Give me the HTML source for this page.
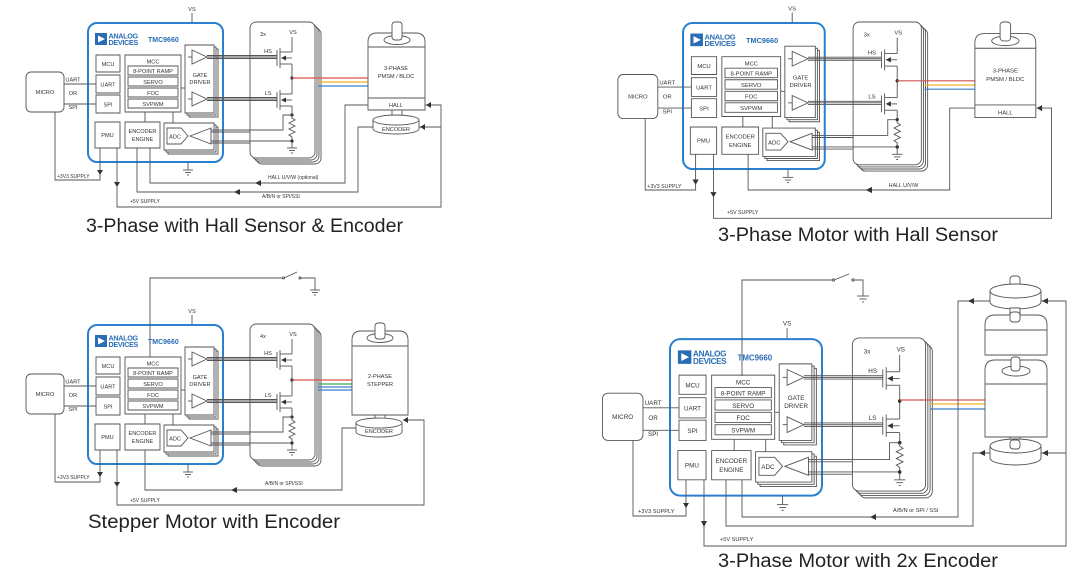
<!DOCTYPE html>
<html><head><meta charset="utf-8">
<style>
html,body{margin:0;padding:0;background:#fff;}
svg{display:block;}
svg *{vector-effect:non-scaling-stroke;}
.d line,.d polyline,.d rect,.d polygon,.d path,.d ellipse{stroke:#555;stroke-width:0.9;fill:none;}
.d rect,.d polygon.f{fill:#fff;}
.d text{font-family:"Liberation Sans",sans-serif;font-size:5.6px;fill:#333;text-anchor:middle;stroke:none;}
.d text.l{text-anchor:start;}
.d text.logo{font-size:7.2px;font-weight:bold;fill:#2a6db5;text-anchor:start;letter-spacing:-0.3px;}
.d text.tmc{font-size:7px;font-weight:bold;fill:#2a6db5;text-anchor:start;}
.d rect.chip{stroke:#2a7fd0;stroke-width:2;fill:none;}
.d .dot{fill:#333;stroke:none;}
.d .ar{fill:#333;stroke:none;}
.t{font-family:"Liberation Sans",sans-serif;font-size:19px;fill:#222;}
.d .w{fill:#fff;}
</style></head><body>
<svg width="1080" height="576" viewBox="0 0 1080 576" xmlns="http://www.w3.org/2000/svg">
<rect width="1080" height="576" fill="#fff"/>

<!-- ================= TL ================= -->
<g class="d">
<line x1="192" y1="13" x2="192" y2="23"/><text x="192" y="11">VS</text>
<rect class="chip" x="88" y="23" width="135" height="139" rx="9"/>
<rect x="95" y="33" width="12" height="12" style="fill:#2a6db5;stroke:none"/><polygon points="98,35.5 98,42.5 105,39" style="fill:#fff;stroke:none"/>
<text class="logo" x="108.5" y="38.5">ANALOG</text><text class="logo" x="108.5" y="45">DEVICES</text>
<text class="tmc" x="148" y="42">TMC9660</text>
<rect x="96" y="55" width="24" height="17"/><text x="108" y="66">MCU</text>
<rect x="96" y="75" width="24" height="18"/><text x="108" y="86.5">UART</text>
<rect x="96" y="95" width="24" height="18"/><text x="108" y="106.5">SPI</text>
<rect x="125" y="55" width="56" height="57"/><text x="153" y="63.5">MCC</text>
<rect x="128" y="66" width="50" height="9"/><text x="153" y="73">8-POINT RAMP</text>
<rect x="128" y="77" width="50" height="9"/><text x="153" y="84">SERVO</text>
<rect x="128" y="88" width="50" height="9"/><text x="153" y="95">FOC</text>
<rect x="128" y="99" width="50" height="9"/><text x="153" y="106">SVPWM</text>
<line x1="181" y1="88" x2="185" y2="88"/>
<rect x="189" y="49" width="29" height="68"/><rect x="187" y="47" width="29" height="68"/><rect x="185" y="45" width="29" height="68"/>
<polygon class="f" points="192,50 207,57 192,64"/><line x1="188" y1="57" x2="192" y2="57"/>
<polygon class="f" points="192,92 207,99 192,106"/><line x1="188" y1="99" x2="192" y2="99"/>
<text x="200" y="77">GATE</text><text x="200" y="84">DRIVER</text>
<line x1="145" y1="112" x2="145" y2="122"/><line x1="173" y1="112" x2="173" y2="123"/>
<rect x="95" y="122" width="25" height="26"/><text x="107.5" y="137">PMU</text>
<rect x="125" y="122" width="35" height="26"/><text x="142.5" y="133">ENCODER</text><text x="142.5" y="141">ENGINE</text>
<rect x="168" y="127" width="50" height="27"/><rect x="166" y="125" width="50" height="27"/><rect x="164" y="123" width="50" height="27"/>
<polygon class="f" points="167,128 181,128 188,136 181,144 167,144"/><text x="175" y="138.5">ADC</text>
<polygon class="f" points="190,136 211,128 211,144"/>
<line x1="188" y1="162" x2="188" y2="170"/><line x1="183" y1="170" x2="193" y2="170"/><line x1="185" y1="172.5" x2="191" y2="172.5"/><line x1="187" y1="175" x2="189" y2="175"/>
<rect x="256" y="28" width="65" height="136" rx="6"/><rect x="254" y="26" width="65" height="136" rx="6"/><rect x="252" y="24" width="65" height="136" rx="6"/><rect x="250" y="22" width="65" height="136" rx="6"/>
<line x1="207" y1="55.5" x2="277" y2="55.5"/><line x1="207" y1="57" x2="277" y2="57"/><line x1="207" y1="58.5" x2="277" y2="58.5"/>
<line x1="207" y1="97.5" x2="277" y2="97.5"/><line x1="207" y1="99" x2="277" y2="99"/><line x1="207" y1="100.5" x2="277" y2="100.5"/>
<polyline points="211,130 283,130 283,115 292,115"/><line x1="211" y1="132" x2="250" y2="132"/>
<line x1="211" y1="141" x2="292" y2="141"/><line x1="211" y1="143" x2="250" y2="143"/>
<text x="263" y="36">3x</text><text x="293" y="34">VS</text>
<line x1="292" y1="37" x2="292" y2="52"/>
<text x="268" y="53">HS</text><line x1="277" y1="50" x2="277" y2="66"/><line x1="280" y1="48" x2="280" y2="68"/>
<polyline points="280,52 292,52"/><polyline points="280,64 292,64"/><polygon class="ar" points="281,58 286,55.5 286,60.5"/><line x1="286" y1="58" x2="292" y2="58"/>
<line x1="292" y1="64" x2="292" y2="94"/><circle class="dot" cx="292" cy="78" r="1.6"/>
<text x="268" y="95">LS</text><line x1="277" y1="92" x2="277" y2="108"/><line x1="280" y1="90" x2="280" y2="110"/>
<polyline points="280,94 292,94"/><polyline points="280,106 292,106"/><polygon class="ar" points="281,100 286,97.5 286,102.5"/><line x1="286" y1="100" x2="292" y2="100"/>
<line x1="292" y1="106" x2="292" y2="115"/><circle class="dot" cx="292" cy="115" r="1.6"/>
<polyline points="292,115 292,118 295,120 289,123 295,126 289,129 295,132 289,135 292,137 292,148"/><circle class="dot" cx="292" cy="141" r="1.6"/>
<line x1="287" y1="148" x2="297" y2="148"/><line x1="289" y1="150.5" x2="295" y2="150.5"/><line x1="291" y1="153" x2="293" y2="153"/>
<rect x="26" y="72" width="38" height="40" rx="5"/><text x="45" y="94">MICRO</text>
<line x1="64" y1="84" x2="96" y2="84"/><line x1="64" y1="104" x2="96" y2="104"/>
<text x="73" y="81.5">UART</text><text x="73" y="95">OR</text><text x="73" y="109">SPI</text>
<line x1="292" y1="78" x2="368" y2="78" style="stroke:#d9534f;stroke-width:1.2"/>
<line x1="318" y1="82" x2="368" y2="82" style="stroke:#f0b323;stroke-width:1.2"/>
<line x1="318" y1="86" x2="368" y2="86" style="stroke:#3a7dc9;stroke-width:1.2"/>
<path class="w" d="M368,110 V42 Q368,33 377,33 H416 Q425,33 425,42 V110 Z"/>
<ellipse cx="397" cy="40" rx="13" ry="4.5"/><rect x="392" y="22" width="10" height="18" rx="3"/>
<line x1="368" y1="47" x2="425" y2="47"/><line x1="368" y1="98" x2="425" y2="98"/>
<text x="396" y="70">3-PHASE</text><text x="396" y="78">PMSM / BLDC</text><text x="396" y="107">HALL</text>
<rect x="392" y="110" width="10" height="9"/>
<path class="w" d="M373,120 A23,5 0 0 1 419,120 V129 A23,5 0 0 1 373,129 Z"/><path d="M373,120 A23,5 0 0 0 419,120"/>
<text x="396" y="131">ENCODER</text>
<polyline points="55,112 55,180 100,180 100,148"/><polygon class="ar" points="97,170 103,170 100,175"/>
<text class="l" x="57" y="178" style="font-size:5px">+3V3 SUPPLY</text>
<polyline points="117,148 117,207 441,207 441,105 425,105"/><polyline points="441,127 419,127"/>
<polygon class="ar" points="114,182 120,182 117,187"/><polygon class="ar" points="426,105 431,102 431,108"/><polygon class="ar" points="420,127 425,124 425,130"/>
<text class="l" x="130" y="203" style="font-size:5px">+5V SUPPLY</text>
<polyline points="150,148 150,183 345,183 345,105 368,105"/><polygon class="ar" points="255,183 261,180 261,186"/>
<text class="l" x="268" y="179" style="font-size:5px">HALL U/V/W (optional)</text>
<polyline points="137,148 137,192 358,192 358,127 373,127"/><polygon class="ar" points="234,192 240,189 240,195"/>
<text class="l" x="262" y="198" style="font-size:5px">A/B/N or SPI/SSI</text>
</g>
<text class="t" x="86" y="232" textLength="317" lengthAdjust="spacingAndGlyphs">3-Phase with Hall Sensor &amp; Encoder</text>

<!-- ================= TR ================= -->
<g class="d" transform="translate(590.6,-1.1) scale(1.05)">
<line x1="192" y1="13" x2="192" y2="23"/><text x="192" y="11">VS</text>
<rect class="chip" x="88" y="23" width="135" height="139" rx="9"/>
<rect x="95" y="33" width="12" height="12" style="fill:#2a6db5;stroke:none"/><polygon points="98,35.5 98,42.5 105,39" style="fill:#fff;stroke:none"/>
<text class="logo" x="108.5" y="38.5">ANALOG</text><text class="logo" x="108.5" y="45">DEVICES</text>
<text class="tmc" x="148" y="42">TMC9660</text>
<rect x="96" y="55" width="24" height="17"/><text x="108" y="66">MCU</text>
<rect x="96" y="75" width="24" height="18"/><text x="108" y="86.5">UART</text>
<rect x="96" y="95" width="24" height="18"/><text x="108" y="106.5">SPI</text>
<rect x="125" y="55" width="56" height="57"/><text x="153" y="63.5">MCC</text>
<rect x="128" y="66" width="50" height="9"/><text x="153" y="73">8-POINT RAMP</text>
<rect x="128" y="77" width="50" height="9"/><text x="153" y="84">SERVO</text>
<rect x="128" y="88" width="50" height="9"/><text x="153" y="95">FOC</text>
<rect x="128" y="99" width="50" height="9"/><text x="153" y="106">SVPWM</text>
<line x1="181" y1="88" x2="185" y2="88"/>
<rect x="189" y="49" width="29" height="68"/><rect x="187" y="47" width="29" height="68"/><rect x="185" y="45" width="29" height="68"/>
<polygon class="f" points="192,50 207,57 192,64"/><line x1="188" y1="57" x2="192" y2="57"/>
<polygon class="f" points="192,92 207,99 192,106"/><line x1="188" y1="99" x2="192" y2="99"/>
<text x="200" y="77">GATE</text><text x="200" y="84">DRIVER</text>
<line x1="145" y1="112" x2="145" y2="122"/><line x1="173" y1="112" x2="173" y2="123"/>
<rect x="95" y="122" width="25" height="26"/><text x="107.5" y="137">PMU</text>
<rect x="125" y="122" width="35" height="26"/><text x="142.5" y="133">ENCODER</text><text x="142.5" y="141">ENGINE</text>
<rect x="168" y="127" width="50" height="27"/><rect x="166" y="125" width="50" height="27"/><rect x="164" y="123" width="50" height="27"/>
<polygon class="f" points="167,128 181,128 188,136 181,144 167,144"/><text x="175" y="138.5">ADC</text>
<polygon class="f" points="190,136 211,128 211,144"/>
<line x1="188" y1="162" x2="188" y2="170"/><line x1="183" y1="170" x2="193" y2="170"/><line x1="185" y1="172.5" x2="191" y2="172.5"/><line x1="187" y1="175" x2="189" y2="175"/>
<rect x="256" y="28" width="65" height="136" rx="6"/><rect x="254" y="26" width="65" height="136" rx="6"/><rect x="252" y="24" width="65" height="136" rx="6"/><rect x="250" y="22" width="65" height="136" rx="6"/>
<line x1="207" y1="55.5" x2="277" y2="55.5"/><line x1="207" y1="57" x2="277" y2="57"/><line x1="207" y1="58.5" x2="277" y2="58.5"/>
<line x1="207" y1="97.5" x2="277" y2="97.5"/><line x1="207" y1="99" x2="277" y2="99"/><line x1="207" y1="100.5" x2="277" y2="100.5"/>
<polyline points="211,130 283,130 283,115 292,115"/><line x1="211" y1="132" x2="250" y2="132"/>
<line x1="211" y1="141" x2="292" y2="141"/><line x1="211" y1="143" x2="250" y2="143"/>
<text x="263" y="36">3x</text><text x="293" y="34">VS</text>
<line x1="292" y1="37" x2="292" y2="52"/>
<text x="268" y="53">HS</text><line x1="277" y1="50" x2="277" y2="66"/><line x1="280" y1="48" x2="280" y2="68"/>
<polyline points="280,52 292,52"/><polyline points="280,64 292,64"/><polygon class="ar" points="281,58 286,55.5 286,60.5"/><line x1="286" y1="58" x2="292" y2="58"/>
<line x1="292" y1="64" x2="292" y2="94"/><circle class="dot" cx="292" cy="78" r="1.6"/>
<text x="268" y="95">LS</text><line x1="277" y1="92" x2="277" y2="108"/><line x1="280" y1="90" x2="280" y2="110"/>
<polyline points="280,94 292,94"/><polyline points="280,106 292,106"/><polygon class="ar" points="281,100 286,97.5 286,102.5"/><line x1="286" y1="100" x2="292" y2="100"/>
<line x1="292" y1="106" x2="292" y2="115"/><circle class="dot" cx="292" cy="115" r="1.6"/>
<polyline points="292,115 292,118 295,120 289,123 295,126 289,129 295,132 289,135 292,137 292,148"/><circle class="dot" cx="292" cy="141" r="1.6"/>
<line x1="287" y1="148" x2="297" y2="148"/><line x1="289" y1="150.5" x2="295" y2="150.5"/><line x1="291" y1="153" x2="293" y2="153"/>
<rect x="26" y="72" width="38" height="42" rx="5"/><text x="45" y="95">MICRO</text>
<line x1="64" y1="84" x2="96" y2="84"/><line x1="64" y1="104" x2="96" y2="104"/>
<text x="73" y="81.5">UART</text><text x="73" y="95">OR</text><text x="73" y="109">SPI</text>
<line x1="292" y1="78" x2="366" y2="78" style="stroke:#d9534f;stroke-width:1.2"/>
<line x1="318" y1="82" x2="366" y2="82" style="stroke:#f0b323;stroke-width:1.2"/>
<line x1="318" y1="86" x2="366" y2="86" style="stroke:#3a7dc9;stroke-width:1.2"/>
<path class="w" d="M366,113 V42 Q366,33 375,33 H415 Q424,33 424,42 V113 Z"/>
<ellipse cx="395" cy="40" rx="13" ry="4.5"/><rect x="390" y="22" width="10" height="18" rx="3"/>
<line x1="366" y1="47" x2="424" y2="47"/><line x1="366" y1="101" x2="424" y2="101"/>
<text x="395" y="70">3-PHASE</text><text x="395" y="78">PMSM / BLDC</text><text x="395" y="110">HALL</text>
<polyline points="52,114 52,182 100,182 100,148"/><polygon class="ar" points="97,172 103,172 100,177"/>
<text class="l" x="54" y="180" style="font-size:5px">+3V3 SUPPLY</text>
<polyline points="117,148 117,209 439,209 439,104 424,104"/>
<polygon class="ar" points="114,184 120,184 117,189"/><polygon class="ar" points="425,104 430,101 430,107"/>
<text class="l" x="130" y="205" style="font-size:5px">+5V SUPPLY</text>
<polyline points="150,148 150,182 342,182 342,104 366,104"/><polygon class="ar" points="262,182 268,179 268,185"/>
<text class="l" x="284" y="179" style="font-size:5px">HALL U/V/W</text>
</g>
<text class="t" x="718" y="241" textLength="280" lengthAdjust="spacingAndGlyphs">3-Phase Motor with Hall Sensor</text>

<!-- ================= BL ================= -->
<g class="d" transform="translate(0,302)">
<line x1="192" y1="13" x2="192" y2="23"/><text x="192" y="11">VS</text>
<rect class="chip" x="88" y="23" width="135" height="139" rx="9"/>
<rect x="95" y="33" width="12" height="12" style="fill:#2a6db5;stroke:none"/><polygon points="98,35.5 98,42.5 105,39" style="fill:#fff;stroke:none"/>
<text class="logo" x="108.5" y="38.5">ANALOG</text><text class="logo" x="108.5" y="45">DEVICES</text>
<text class="tmc" x="148" y="42">TMC9660</text>
<rect x="96" y="55" width="24" height="17"/><text x="108" y="66">MCU</text>
<rect x="96" y="75" width="24" height="18"/><text x="108" y="86.5">UART</text>
<rect x="96" y="95" width="24" height="18"/><text x="108" y="106.5">SPI</text>
<rect x="125" y="55" width="56" height="57"/><text x="153" y="63.5">MCC</text>
<rect x="128" y="66" width="50" height="9"/><text x="153" y="73">8-POINT RAMP</text>
<rect x="128" y="77" width="50" height="9"/><text x="153" y="84">SERVO</text>
<rect x="128" y="88" width="50" height="9"/><text x="153" y="95">FOC</text>
<rect x="128" y="99" width="50" height="9"/><text x="153" y="106">SVPWM</text>
<line x1="181" y1="88" x2="185" y2="88"/>
<rect x="189" y="49" width="29" height="68"/><rect x="187" y="47" width="29" height="68"/><rect x="185" y="45" width="29" height="68"/>
<polygon class="f" points="192,50 207,57 192,64"/><line x1="188" y1="57" x2="192" y2="57"/>
<polygon class="f" points="192,92 207,99 192,106"/><line x1="188" y1="99" x2="192" y2="99"/>
<text x="200" y="77">GATE</text><text x="200" y="84">DRIVER</text>
<line x1="145" y1="112" x2="145" y2="122"/><line x1="173" y1="112" x2="173" y2="123"/>
<rect x="95" y="122" width="25" height="26"/><text x="107.5" y="137">PMU</text>
<rect x="125" y="122" width="35" height="26"/><text x="142.5" y="133">ENCODER</text><text x="142.5" y="141">ENGINE</text>
<rect x="168" y="127" width="50" height="27"/><rect x="166" y="125" width="50" height="27"/><rect x="164" y="123" width="50" height="27"/>
<polygon class="f" points="167,128 181,128 188,136 181,144 167,144"/><text x="175" y="138.5">ADC</text>
<polygon class="f" points="190,136 211,128 211,144"/>
<line x1="188" y1="162" x2="188" y2="170"/><line x1="183" y1="170" x2="193" y2="170"/><line x1="185" y1="172.5" x2="191" y2="172.5"/><line x1="187" y1="175" x2="189" y2="175"/>
<rect x="256" y="28" width="65" height="136" rx="6"/><rect x="254" y="26" width="65" height="136" rx="6"/><rect x="252" y="24" width="65" height="136" rx="6"/><rect x="250" y="22" width="65" height="136" rx="6"/>
<line x1="207" y1="55.5" x2="277" y2="55.5"/><line x1="207" y1="57" x2="277" y2="57"/><line x1="207" y1="58.5" x2="277" y2="58.5"/>
<line x1="207" y1="97.5" x2="277" y2="97.5"/><line x1="207" y1="99" x2="277" y2="99"/><line x1="207" y1="100.5" x2="277" y2="100.5"/>
<polyline points="211,130 283,130 283,115 292,115"/><line x1="211" y1="132" x2="250" y2="132"/>
<line x1="211" y1="141" x2="292" y2="141"/><line x1="211" y1="143" x2="250" y2="143"/>
<text x="263" y="36">4x</text><text x="293" y="34">VS</text>
<line x1="292" y1="37" x2="292" y2="52"/>
<text x="268" y="53">HS</text><line x1="277" y1="50" x2="277" y2="66"/><line x1="280" y1="48" x2="280" y2="68"/>
<polyline points="280,52 292,52"/><polyline points="280,64 292,64"/><polygon class="ar" points="281,58 286,55.5 286,60.5"/><line x1="286" y1="58" x2="292" y2="58"/>
<line x1="292" y1="64" x2="292" y2="94"/><circle class="dot" cx="292" cy="78" r="1.6"/>
<text x="268" y="95">LS</text><line x1="277" y1="92" x2="277" y2="108"/><line x1="280" y1="90" x2="280" y2="110"/>
<polyline points="280,94 292,94"/><polyline points="280,106 292,106"/><polygon class="ar" points="281,100 286,97.5 286,102.5"/><line x1="286" y1="100" x2="292" y2="100"/>
<line x1="292" y1="106" x2="292" y2="115"/><circle class="dot" cx="292" cy="115" r="1.6"/>
<polyline points="292,115 292,118 295,120 289,123 295,126 289,129 295,132 289,135 292,137 292,148"/><circle class="dot" cx="292" cy="141" r="1.6"/>
<line x1="287" y1="148" x2="297" y2="148"/><line x1="289" y1="150.5" x2="295" y2="150.5"/><line x1="291" y1="153" x2="293" y2="153"/>
<rect x="26" y="72" width="38" height="40" rx="5"/><text x="45" y="94">MICRO</text>
<line x1="64" y1="84" x2="96" y2="84"/><line x1="64" y1="104" x2="96" y2="104"/>
<text x="73" y="81.5">UART</text><text x="73" y="95">OR</text><text x="73" y="109">SPI</text>
<polyline points="150,55 150,-24 283,-24"/><line x1="284" y1="-24" x2="297" y2="-30"/>
<circle cx="283.5" cy="-24" r="1" style="fill:#fff;stroke:#555"/><circle cx="300" cy="-24" r="1" style="fill:#fff;stroke:#555"/>
<polyline points="301,-24 315,-24 315,-12"/><line x1="310" y1="-12" x2="320" y2="-12"/><line x1="312" y1="-9.5" x2="318" y2="-9.5"/><line x1="314" y1="-7" x2="316" y2="-7"/>
<line x1="292" y1="78" x2="352" y2="78" style="stroke:#d9534f;stroke-width:1.2"/>
<line x1="318" y1="82" x2="352" y2="82" style="stroke:#3aa655;stroke-width:1.2"/>
<line x1="318" y1="85" x2="352" y2="85" style="stroke:#3a7dc9;stroke-width:1.2"/>
<line x1="318" y1="88" x2="352" y2="88" style="stroke:#3a7dc9;stroke-width:1.2"/>
<path class="w" d="M352,113 V38 Q352,29 361,29 H399 Q408,29 408,38 V113 Z"/>
<ellipse cx="380" cy="36" rx="13" ry="4.5"/><rect x="375" y="21" width="10" height="16" rx="3"/>
<line x1="352" y1="44" x2="408" y2="44"/>
<text x="380" y="76">2-PHASE</text><text x="380" y="84">STEPPER</text>
<rect x="375" y="113" width="10" height="8"/>
<path class="w" d="M356,121 A23,5 0 0 1 402,121 V130 A23,5 0 0 1 356,130 Z"/><path d="M356,121 A23,5 0 0 0 402,121"/>
<text x="379" y="131">ENCODER</text>
<polyline points="55,112 55,180 100,180 100,148"/><polygon class="ar" points="97,170 103,170 100,175"/>
<text class="l" x="57" y="177" style="font-size:5px">+3V3 SUPPLY</text>
<polyline points="117,148 117,203 424,203 424,118 403,118"/>
<polygon class="ar" points="114,180 120,180 117,185"/><polygon class="ar" points="403,118 408,115 408,121"/>
<text class="l" x="130" y="200" style="font-size:5px">+5V SUPPLY</text>
<polyline points="145,148 145,188 342,188 342,126 356,126"/><polygon class="ar" points="231,188 237,185 237,191"/>
<text class="l" x="265" y="183" style="font-size:5px">A/B/N or SPI/SSI</text>
</g>
<text class="t" x="88" y="528" textLength="252" lengthAdjust="spacingAndGlyphs">Stepper Motor with Encoder</text>

<!-- ================= BR ================= -->
<g class="d" transform="translate(570.9,313.2) scale(1.126)">
<line x1="192" y1="13" x2="192" y2="23"/><text x="192" y="11">VS</text>
<rect class="chip" x="88" y="23" width="135" height="139" rx="9"/>
<rect x="95" y="33" width="12" height="12" style="fill:#2a6db5;stroke:none"/><polygon points="98,35.5 98,42.5 105,39" style="fill:#fff;stroke:none"/>
<text class="logo" x="108.5" y="38.5">ANALOG</text><text class="logo" x="108.5" y="45">DEVICES</text>
<text class="tmc" x="148" y="42">TMC9660</text>
<rect x="96" y="55" width="24" height="17"/><text x="108" y="66">MCU</text>
<rect x="96" y="75" width="24" height="18"/><text x="108" y="86.5">UART</text>
<rect x="96" y="95" width="24" height="18"/><text x="108" y="106.5">SPI</text>
<rect x="125" y="55" width="56" height="57"/><text x="153" y="63.5">MCC</text>
<rect x="128" y="66" width="50" height="9"/><text x="153" y="73">8-POINT RAMP</text>
<rect x="128" y="77" width="50" height="9"/><text x="153" y="84">SERVO</text>
<rect x="128" y="88" width="50" height="9"/><text x="153" y="95">FOC</text>
<rect x="128" y="99" width="50" height="9"/><text x="153" y="106">SVPWM</text>
<line x1="181" y1="88" x2="185" y2="88"/>
<rect x="189" y="49" width="29" height="68"/><rect x="187" y="47" width="29" height="68"/><rect x="185" y="45" width="29" height="68"/>
<polygon class="f" points="192,50 207,57 192,64"/><line x1="188" y1="57" x2="192" y2="57"/>
<polygon class="f" points="192,92 207,99 192,106"/><line x1="188" y1="99" x2="192" y2="99"/>
<text x="200" y="77">GATE</text><text x="200" y="84">DRIVER</text>
<line x1="145" y1="112" x2="145" y2="122"/><line x1="173" y1="112" x2="173" y2="123"/>
<rect x="95" y="122" width="25" height="26"/><text x="107.5" y="137">PMU</text>
<rect x="125" y="122" width="35" height="26"/><text x="142.5" y="133">ENCODER</text><text x="142.5" y="141">ENGINE</text>
<rect x="168" y="127" width="50" height="27"/><rect x="166" y="125" width="50" height="27"/><rect x="164" y="123" width="50" height="27"/>
<polygon class="f" points="167,128 181,128 188,136 181,144 167,144"/><text x="175" y="138.5">ADC</text>
<polygon class="f" points="190,136 211,128 211,144"/>
<line x1="188" y1="162" x2="188" y2="170"/><line x1="183" y1="170" x2="193" y2="170"/><line x1="185" y1="172.5" x2="191" y2="172.5"/><line x1="187" y1="175" x2="189" y2="175"/>
<rect x="256" y="28" width="65" height="136" rx="6"/><rect x="254" y="26" width="65" height="136" rx="6"/><rect x="252" y="24" width="65" height="136" rx="6"/><rect x="250" y="22" width="65" height="136" rx="6"/>
<line x1="207" y1="55.5" x2="277" y2="55.5"/><line x1="207" y1="57" x2="277" y2="57"/><line x1="207" y1="58.5" x2="277" y2="58.5"/>
<line x1="207" y1="97.5" x2="277" y2="97.5"/><line x1="207" y1="99" x2="277" y2="99"/><line x1="207" y1="100.5" x2="277" y2="100.5"/>
<polyline points="211,130 283,130 283,115 292,115"/><line x1="211" y1="132" x2="250" y2="132"/>
<line x1="211" y1="141" x2="292" y2="141"/><line x1="211" y1="143" x2="250" y2="143"/>
<text x="263" y="36">3x</text><text x="293" y="34">VS</text>
<line x1="292" y1="37" x2="292" y2="52"/>
<text x="268" y="53">HS</text><line x1="277" y1="50" x2="277" y2="66"/><line x1="280" y1="48" x2="280" y2="68"/>
<polyline points="280,52 292,52"/><polyline points="280,64 292,64"/><polygon class="ar" points="281,58 286,55.5 286,60.5"/><line x1="286" y1="58" x2="292" y2="58"/>
<line x1="292" y1="64" x2="292" y2="94"/><circle class="dot" cx="292" cy="78" r="1.6"/>
<text x="268" y="95">LS</text><line x1="277" y1="92" x2="277" y2="108"/><line x1="280" y1="90" x2="280" y2="110"/>
<polyline points="280,94 292,94"/><polyline points="280,106 292,106"/><polygon class="ar" points="281,100 286,97.5 286,102.5"/><line x1="286" y1="100" x2="292" y2="100"/>
<line x1="292" y1="106" x2="292" y2="115"/><circle class="dot" cx="292" cy="115" r="1.6"/>
<polyline points="292,115 292,118 295,120 289,123 295,126 289,129 295,132 289,135 292,137 292,148"/><circle class="dot" cx="292" cy="141" r="1.6"/>
<line x1="287" y1="148" x2="297" y2="148"/><line x1="289" y1="150.5" x2="295" y2="150.5"/><line x1="291" y1="153" x2="293" y2="153"/>
<rect x="28" y="71" width="36" height="42" rx="5"/><text x="46" y="94">MICRO</text>
<line x1="64" y1="84" x2="96" y2="84"/><line x1="64" y1="104" x2="96" y2="104"/>
<text x="73" y="81.5">UART</text><text x="73" y="95">OR</text><text x="73" y="109">SPI</text>
</g>
<g class="d">
<polyline points="742,376 742,280 833,280"/><line x1="834" y1="280" x2="849" y2="274"/>
<circle cx="833.5" cy="280" r="1.1" style="fill:#fff;stroke:#555"/><circle cx="853" cy="280" r="1.1" style="fill:#fff;stroke:#555"/>
<polyline points="854,280 863,280 863,296"/><line x1="857" y1="296" x2="869" y2="296"/><line x1="859.5" y1="299" x2="866.5" y2="299"/><line x1="862" y1="302" x2="864" y2="302"/>
<line x1="900" y1="400" x2="985" y2="400" style="stroke:#d9534f;stroke-width:1.2"/>
<line x1="930" y1="404" x2="985" y2="404" style="stroke:#f0b323;stroke-width:1.2"/>
<line x1="930" y1="409" x2="985" y2="409" style="stroke:#3a7dc9;stroke-width:1.2"/>
<rect x="1010" y="276" width="10" height="16" rx="3"/>
<path class="w" d="M990,291 A25.5,7 0 0 1 1041,291 V302 A25.5,7 0 0 1 990,302 Z"/><path d="M990,291 A25.5,7 0 0 0 1041,291"/>
<rect x="1010" y="308" width="10" height="10"/>
<path class="w" d="M985,355 V325 Q985,315 995,315 H1037 Q1047,315 1047,325 V355 Z"/><line x1="985" y1="330" x2="1047" y2="330"/>
<rect x="1010" y="312" width="10" height="10" rx="3"/>
<path class="w" d="M985,437 V370 Q985,360 995,360 H1037 Q1047,360 1047,370 V437 Z"/>
<ellipse cx="1016" cy="371" rx="14" ry="5"/><rect x="1011" y="357" width="9" height="14" rx="3"/>
<line x1="985" y1="384" x2="1047" y2="384"/>
<rect x="1010" y="437" width="10" height="8"/>
<path class="w" d="M990,446 A25.5,7 0 0 1 1041,446 V458 A25.5,7 0 0 1 990,458 Z"/><path d="M990,446 A25.5,7 0 0 0 1041,446"/>
<rect x="1010" y="440" width="10" height="9" rx="3"/>
<polyline points="633,440 633,516 686,516 686,480"/><polygon class="ar" points="683,503 689,503 686,508"/>
<text class="l" x="638" y="513" style="font-size:5.6px">+3V3 SUPPLY</text>
<polyline points="704,480 704,546 1066,546 1066,301 1041,301"/><polyline points="1066,453 1041,453"/>
<polygon class="ar" points="701,521 707,521 704,527"/><polygon class="ar" points="1042,301 1048,298 1048,304"/><polygon class="ar" points="1042,453 1048,450 1048,456"/>
<text class="l" x="720" y="541" style="font-size:5.6px">+5V SUPPLY</text>
<polyline points="742,480 742,517 958,517 958,301 990,301"/><polygon class="ar" points="870,517 876,514 876,520"/><polygon class="ar" points="968,301 974,298 974,304"/>
<text class="l" x="893" y="512" style="font-size:5.6px">A/B/N or SPI / SSI</text>
<polyline points="726,480 726,526 973,526 973,453 990,453"/><polygon class="ar" points="979,453 985,450 985,456"/>
</g>
<text class="t" x="718" y="567" textLength="280" lengthAdjust="spacingAndGlyphs">3-Phase Motor with 2x Encoder</text>
</svg>
</body></html>
